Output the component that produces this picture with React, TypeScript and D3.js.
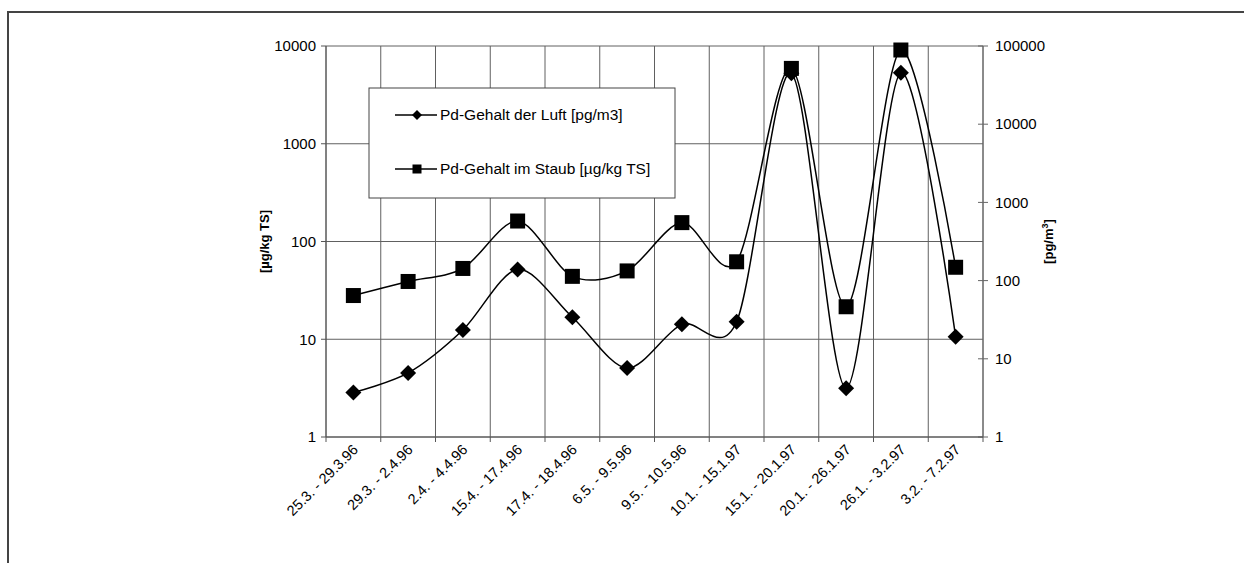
import React from "react";
import * as d3 from "d3";

// Sampling periods (category axis)
const periods: string[] = [
  "25.3. - 29.3.96",
  "29.3. - 2.4.96",
  "2.4. - 4.4.96",
  "15.4. - 17.4.96",
  "17.4. - 18.4.96",
  "6.5. - 9.5.96",
  "9.5. - 10.5.96",
  "10.1. - 15.1.97",
  "15.1. - 20.1.97",
  "20.1. - 26.1.97",
  "26.1. - 3.2.97",
  "3.2. - 7.2.97",
];

// Pd content of the air [pg/m3] (right axis)
const luftValues: number[] = [3.7, 6.6, 23.4, 139, 34, 7.6, 27.6, 29.8, 44700, 4.2, 45600, 19.2];

// Pd content of the dust [µg/kg TS] (left axis)
const staubValues: number[] = [28, 39, 53, 162, 44, 50, 156, 62, 5900, 21.5, 9100, 54.5];

const leftTicks: number[] = [1, 10, 100, 1000, 10000];
const rightTicks: number[] = [1, 10, 100, 1000, 10000, 100000];

const legendItems: { label: string; shape: "diamond" | "square" }[] = [
  { label: "Pd-Gehalt der Luft [pg/m3]", shape: "diamond" },
  { label: "Pd-Gehalt im Staub [µg/kg TS]", shape: "square" },
];

const W = 1244;
const H = 563;
const plot = { left: 326, right: 983, top: 46, bottom: 437 };
const FONT = "'Liberation Sans', Arial, Helvetica, sans-serif";
const GRID = "#606060";

function Diamond({ x, y, r }: { x: number; y: number; r: number }) {
  return <path d={`M${x},${y - r}L${x + r},${y}L${x},${y + r}L${x - r},${y}Z`} fill="#000" />;
}

function Square({ x, y, s }: { x: number; y: number; s: number }) {
  return <rect x={x - s / 2} y={y - s / 2} width={s} height={s} fill="#000" />;
}

export default function App() {
  const x = d3
    .scaleBand<string>()
    .domain(periods)
    .range([plot.left, plot.right])
    .paddingInner(0)
    .paddingOuter(0);
  const center = (p: string) => (x(p) as number) + x.bandwidth() / 2;

  const yLeft = d3.scaleLog().domain([1, 10000]).range([plot.bottom, plot.top]);
  const yRight = d3.scaleLog().domain([1, 100000]).range([plot.bottom, plot.top]);

  const line = d3
    .line<[number, number]>()
    .x((d) => d[0])
    .y((d) => d[1])
    .curve(d3.curveCardinal.tension(0.1));

  const staubPts: [number, number][] = periods.map((p, i) => [center(p), yLeft(staubValues[i])]);
  const luftPts: [number, number][] = periods.map((p, i) => [center(p), yRight(luftValues[i])]);

  const boundaries = periods.map((p) => x(p) as number).concat([plot.right]);

  const legend = { x: 369, y: 88, w: 306, h: 110 };
  const legendRows = [115, 169];

  return (
    <svg
      width={W}
      height={H}
      style={{ position: "absolute", left: 0, top: 0, display: "block", background: "#fff" }}
      fontFamily={FONT}
    >
      {/* outer chart frame */}
      <path d={`M8,${H}V12H${W}`} fill="none" stroke="#444" strokeWidth={2} />

      {/* horizontal gridlines on the left axis decades */}
      {leftTicks.map((t) => (
        <line key={`hg${t}`} x1={plot.left} x2={plot.right} y1={yLeft(t)} y2={yLeft(t)} stroke={GRID} strokeWidth={1} />
      ))}
      {/* vertical gridlines at the category boundaries */}
      {boundaries.map((b, i) => (
        <line key={`vg${i}`} x1={b} x2={b} y1={plot.top} y2={plot.bottom} stroke={GRID} strokeWidth={1} />
      ))}

      {/* left axis */}
      <line x1={plot.left} x2={plot.left} y1={plot.top} y2={plot.bottom} stroke="#555" />
      {leftTicks.map((t) => (
        <g key={`lt${t}`}>
          <line x1={plot.left - 5} x2={plot.left} y1={yLeft(t)} y2={yLeft(t)} stroke="#555" />
          <text x={plot.left - 10} y={yLeft(t)} dy="0.35em" textAnchor="end" fontSize={15} fill="#000">
            {t}
          </text>
        </g>
      ))}
      <text
        transform={`translate(269,${(plot.top + plot.bottom) / 2}) rotate(-90)`}
        textAnchor="middle"
        fontSize={13}
        fontWeight="bold"
        fill="#000"
      >
        [µg/kg TS]
      </text>

      {/* right axis */}
      <line x1={plot.right} x2={plot.right} y1={plot.top} y2={plot.bottom} stroke="#666" />
      {rightTicks.map((t) => (
        <g key={`rt${t}`}>
          <line x1={plot.right - 5} x2={plot.right + 5} y1={yRight(t)} y2={yRight(t)} stroke="#666" />
          <text x={plot.right + 12} y={yRight(t)} dy="0.35em" textAnchor="start" fontSize={15} fill="#000">
            {t}
          </text>
        </g>
      ))}
      <text
        transform={`translate(1053,${(plot.top + plot.bottom) / 2}) rotate(-90)`}
        textAnchor="middle"
        fontSize={13}
        fontWeight="bold"
        fill="#000"
      >
        [pg/m<tspan fontSize={9} dy="-5">3</tspan>
        <tspan dy="5">]</tspan>
      </text>

      {/* category axis */}
      <line x1={plot.left} x2={plot.right} y1={plot.bottom} y2={plot.bottom} stroke="#555" />
      {boundaries.map((b, i) => (
        <line key={`xt${i}`} x1={b} x2={b} y1={plot.bottom} y2={plot.bottom + 5} stroke="#555" />
      ))}
      {periods.map((p) => (
        <text
          key={`xl${p}`}
          transform={`translate(${center(p) + 2},${plot.bottom + 10}) rotate(-45)`}
          textAnchor="end"
          dy="0.35em"
          fontSize={14.5}
          fill="#000"
        >
          {p}
        </text>
      ))}

      {/* series lines */}
      <path d={line(luftPts) ?? ""} fill="none" stroke="#000" strokeWidth={1.5} />
      <path d={line(staubPts) ?? ""} fill="none" stroke="#000" strokeWidth={1.5} />

      {/* markers */}
      {luftPts.map(([px, py], i) => (
        <Diamond key={`d${i}`} x={px} y={py} r={8} />
      ))}
      {staubPts.map(([px, py], i) => (
        <Square key={`s${i}`} x={px} y={py} s={15} />
      ))}

      {/* legend */}
      <rect x={legend.x} y={legend.y} width={legend.w} height={legend.h} fill="#fff" stroke="#444" strokeWidth={1} />
      {legendItems.map((item, i) => (
        <g key={item.label}>
          <line x1={395} x2={437} y1={legendRows[i]} y2={legendRows[i]} stroke="#000" strokeWidth={1.5} />
          {item.shape === "diamond" ? (
            <Diamond x={417} y={legendRows[i]} r={5} />
          ) : (
            <Square x={417} y={legendRows[i]} s={9} />
          )}
          <text x={440} y={legendRows[i]} dy="0.35em" fontSize={15.5} fill="#000">
            {item.label}
          </text>
        </g>
      ))}
    </svg>
  );
}
